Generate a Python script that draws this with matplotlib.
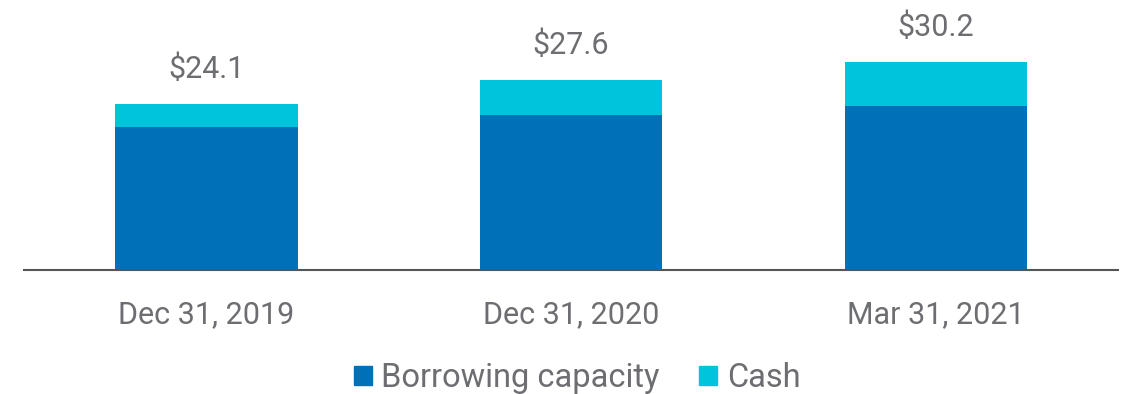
import matplotlib.pyplot as plt
from matplotlib.patches import Patch
import numpy as np

plt.rcParams['font.family'] = ['Roboto', 'DejaVu Sans']

dates = ['Dec 31, 2019', 'Dec 31, 2020', 'Mar 31, 2021']
borrowing = [20.8, 22.5, 23.8]
cash = [3.3, 5.1, 6.4]
totals = ['$24.1', '$27.6', '$30.2']

blue = '#0071B9'
cyan = '#00C3DC'
grey = '#6D6E71'

fig = plt.figure(figsize=(11.25, 3.94), dpi=100)
ax = fig.add_axes([24 / 1125, (394 - 270) / 394, (1118 - 24) / 1125, 270 / 394])

x = np.arange(len(dates))
ax.bar(x, borrowing, width=0.5, color=blue)
ax.bar(x, cash, width=0.5, bottom=borrowing, color=cyan)

for xi, b, c, lab in zip(x, borrowing, cash, totals):
    ax.annotate(lab, (xi, b + c), xytext=(0, 19), textcoords='offset points',
                ha='center', va='baseline', fontsize=22, color=grey)

ax.set_xlim(-0.5, 2.5)
ax.set_ylim(0, 39.2)
ax.set_xticks(x)
ax.set_xticklabels(dates, fontsize=22, color=grey)
ax.tick_params(axis='x', length=0, pad=22)
ax.set_yticks([])
for s in ['top', 'right', 'left']:
    ax.spines[s].set_visible(False)
ax.spines['bottom'].set_color('#555555')
ax.spines['bottom'].set_linewidth(1.5)

handles = [Patch(color=blue, label='Borrowing capacity'), Patch(color=cyan, label='Cash')]
leg = fig.legend(handles=handles, loc='center', bbox_to_anchor=(577 / 1125, 1 - 378 / 394),
                 ncol=2, frameon=False, fontsize=23.5, handlelength=0.55, handleheight=0.55,
                 handletextpad=0.3, columnspacing=1.2, borderpad=0)
for t in leg.get_texts():
    t.set_color(grey)

fig.savefig('out.png', dpi=100)
